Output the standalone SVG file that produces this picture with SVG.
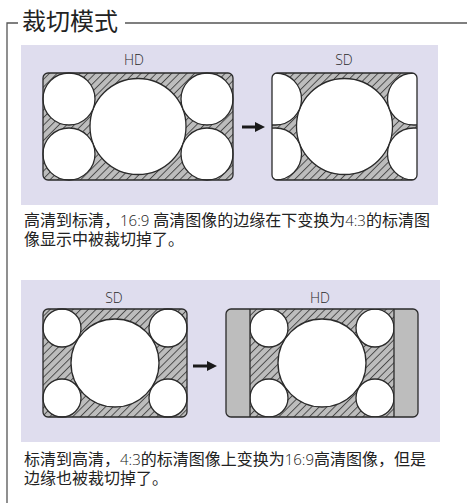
<svg xmlns="http://www.w3.org/2000/svg" width="467" height="503" viewBox="0 0 467 503">
  <style>
    .frame { fill: none; stroke: #555; stroke-width: 1.3; }
    .panel { fill: #dfddee; }
    .hatch { fill: url(#hatch); }
    .outline { fill: none; stroke: #2a2a2a; stroke-width: 1.3; }
    .hole { fill: #fff; stroke: #2a2a2a; stroke-width: 1.3; }
    .bar { fill: #bdbdbd; }
    .label { font-family: "Open Sans", "Lato", "DejaVu Sans", sans-serif; font-weight: 300; font-size: 14px; fill: #2a2a2a; text-anchor: middle; }
    .title { font-family: "Noto Sans CJK SC", "Noto Sans", sans-serif; font-size: 24px; fill: #222; }
    .body { font-family: "Noto Sans CJK SC", "Noto Sans", sans-serif; font-size: 16px; fill: #222; }
    .num { font-family: "Open Sans", "Lato", "DejaVu Sans", sans-serif; font-weight: 300; font-size: 15px; }
    .conn { stroke: #1a1a1a; stroke-width: 3; fill: none; }
  </style>
  <defs>
    <pattern id="hatch" patternUnits="userSpaceOnUse" width="6" height="5.4" patternTransform="rotate(-45)">
      <rect width="6" height="5.4" fill="#bdbdbd"/>
      <line x1="0" y1="0.5" x2="6" y2="0.5" stroke="#3a3a3a" stroke-width="0.9"/>
    </pattern>
    <marker id="arrow" viewBox="0 0 10 10" refX="1" refY="5" markerWidth="10" markerHeight="10" markerUnits="userSpaceOnUse" orient="auto">
      <path d="M0,0 L10,5 L0,10 z" fill="#1a1a1a"/>
    </marker>
    <clipPath id="clipSD1">
      <rect x="272" y="73" width="145" height="107" rx="5"/>
    </clipPath>
    <clipPath id="clipHD2inner">
      <rect x="250" y="309" width="144" height="108"/>
    </clipPath>
  </defs>

  <!-- frame and title -->
  <g id="title">
    <path class="frame" d="M18,23 H7 V503"/>
    <line class="frame" x1="125" y1="23" x2="467" y2="23"/>
    <text class="title" x="22" y="30">裁切模式</text>
  </g>

  <!-- panels -->
  <rect id="panel1" class="panel" x="21" y="45" width="417" height="160"/>
  <rect id="panel2" class="panel" x="21" y="280" width="419" height="162"/>

  <!-- Panel 1: HD 16:9 -->
  <g id="p1-hd">
    <text class="label" x="134" y="65">HD</text>
    <rect class="hatch" x="43" y="73" width="190" height="107" rx="5"/>
    <circle class="hole" cx="138" cy="126.5" r="48"/>
    <circle class="hole" cx="69" cy="99" r="26"/>
    <circle class="hole" cx="69" cy="154" r="26"/>
    <circle class="hole" cx="207" cy="99" r="26"/>
    <circle class="hole" cx="207" cy="154" r="26"/>
    <rect class="outline" x="43" y="73" width="190" height="107" rx="5"/>
  </g>

  <!-- Panel 1: SD 4:3 (cropped) -->
  <g id="p1-sd">
    <text class="label" x="344" y="65">SD</text>
    <g clip-path="url(#clipSD1)">
      <rect class="hatch" x="272" y="73" width="145" height="107"/>
      <circle class="hole" cx="344.5" cy="126.5" r="48"/>
      <circle class="hole" cx="275.5" cy="99" r="26"/>
      <circle class="hole" cx="275.5" cy="154" r="26"/>
      <circle class="hole" cx="413.5" cy="99" r="26"/>
      <circle class="hole" cx="413.5" cy="154" r="26"/>
    </g>
    <rect class="outline" x="272" y="73" width="145" height="107" rx="5"/>
  </g>

  <!-- Panel 2: SD 4:3 -->
  <g id="p2-sd">
    <text class="label" x="114" y="303">SD</text>
    <rect class="hatch" x="43" y="309" width="144" height="108" rx="5"/>
    <circle class="hole" cx="115" cy="363" r="44"/>
    <circle class="hole" cx="62" cy="328" r="19"/>
    <circle class="hole" cx="168" cy="328" r="19"/>
    <circle class="hole" cx="62" cy="398" r="19"/>
    <circle class="hole" cx="168" cy="398" r="19"/>
    <rect class="outline" x="43" y="309" width="144" height="108" rx="5"/>
  </g>

  <!-- Panel 2: HD 16:9 with side bars -->
  <g id="p2-hd">
    <text class="label" x="320" y="303">HD</text>
    <rect class="bar" x="226" y="309" width="192" height="108" rx="5"/>
    <g clip-path="url(#clipHD2inner)">
      <rect class="hatch" x="250" y="309" width="144" height="108"/>
      <circle class="hole" cx="322" cy="363" r="44"/>
      <circle class="hole" cx="269" cy="328" r="19"/>
      <circle class="hole" cx="375" cy="328" r="19"/>
      <circle class="hole" cx="269" cy="398" r="19"/>
      <circle class="hole" cx="375" cy="398" r="19"/>
    </g>
    <line class="outline" x1="250" y1="309" x2="250" y2="417"/>
    <line class="outline" x1="394" y1="309" x2="394" y2="417"/>
    <rect class="outline" x="226" y="309" width="192" height="108" rx="5"/>
  </g>

  <!-- connectors -->
  <g id="connectors">
    <line class="conn" x1="242" y1="127" x2="256" y2="127" marker-end="url(#arrow)"/>
    <line class="conn" x1="193" y1="366" x2="208" y2="366" marker-end="url(#arrow)"/>
  </g>

  <!-- captions -->
  <g id="caption1">
    <text class="body" x="24" y="226">高清到标清，<tspan class="num">16:9 </tspan>高清图像的边缘在下变换为<tspan class="num">4:3</tspan>的标清图</text>
    <text class="body" x="24" y="245">像显示中被裁切掉了。</text>
  </g>
  <g id="caption2">
    <text class="body" x="24" y="465">标清到高清，<tspan class="num">4:3</tspan>的标清图像上变换为<tspan class="num">16:9</tspan>高清图像，但是</text>
    <text class="body" x="24" y="484">边缘也被裁切掉了。</text>
  </g>
</svg>
